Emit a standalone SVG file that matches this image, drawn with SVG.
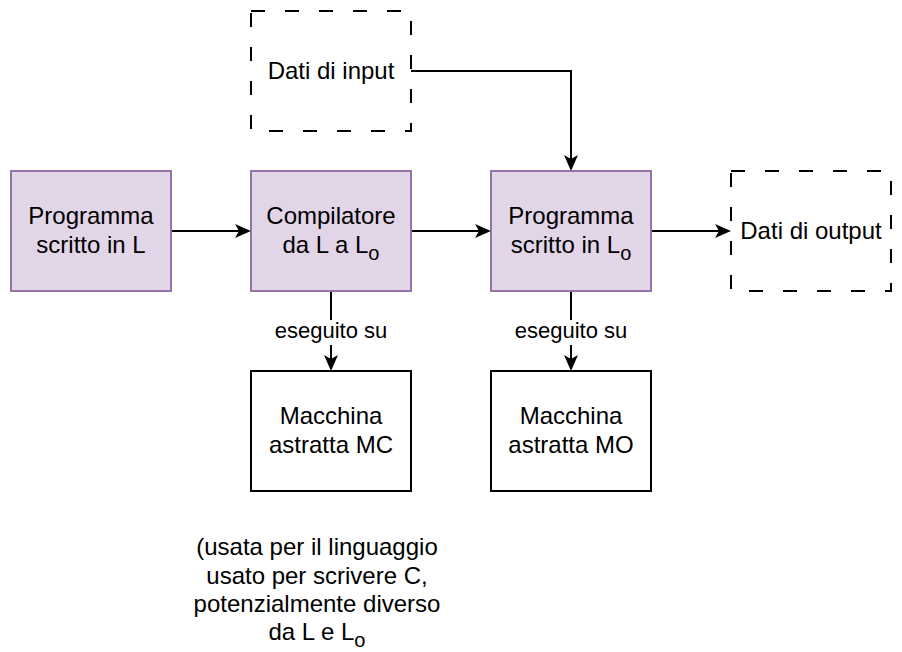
<svg xmlns="http://www.w3.org/2000/svg" width="902" height="652" viewBox="0 0 902 652">
<style>
  text { font-family: "Liberation Sans", Arial, Helvetica, sans-serif; fill: #000; }
  .t { font-size: 24px; text-anchor: middle; }
  .lbl { font-size: 22px; text-anchor: middle; }
  .sub { font-size: 20px; }
  .purple { fill: #e1d5e7; stroke: #9673a6; stroke-width: 2; }
  .plain { fill: #ffffff; stroke: #000; stroke-width: 2; }
  .dash { fill: #ffffff; stroke: #000; stroke-width: 2; stroke-dasharray: 14 20; }
  .edge { fill: none; stroke: #000; stroke-width: 2; marker-end: url(#arrow); }
</style>
<defs>
  <marker id="arrow" markerUnits="userSpaceOnUse" markerWidth="16" markerHeight="16" viewBox="0 0 16 14" refX="11" refY="7" orient="auto">
    <path d="M0,0 L16,7 L0,14 L4,7 Z" fill="#000"/>
  </marker>
</defs>
<rect width="902" height="652" fill="#ffffff"/>

<g id="connectors">
  <path class="edge" d="M171,231 H246"/>
  <path class="edge" d="M411,231 H486"/>
  <path class="edge" d="M651,231 H726"/>
  <path class="edge" d="M411,71 H571 V166"/>
  <path class="edge" d="M331,291 V366"/>
  <path class="edge" d="M571,291 V366"/>
  <g id="label-mc">
    <rect x="274" y="320" width="114" height="25" fill="#ffffff"/>
    <text class="lbl" x="331" y="338">eseguito su</text>
  </g>
  <g id="label-mo">
    <rect x="514" y="320" width="114" height="25" fill="#ffffff"/>
    <text class="lbl" x="571" y="338">eseguito su</text>
  </g>
</g>

<g id="input">
  <rect class="dash" x="251" y="11" width="160" height="120"/>
  <text class="t" x="331" y="78.5">Dati di input</text>
</g>

<g id="prog-l">
  <rect class="purple" x="11" y="171" width="160" height="120"/>
  <text class="t" x="91" y="224">Programma</text>
  <text class="t" x="91" y="253">scritto in L</text>
</g>

<g id="compiler">
  <rect class="purple" x="251" y="171" width="160" height="120"/>
  <text class="t" x="331" y="224">Compilatore</text>
  <text class="t" x="331" y="253">da L a L<tspan class="sub" dy="7">o</tspan></text>
</g>

<g id="prog-lo">
  <rect class="purple" x="491" y="171" width="160" height="120"/>
  <text class="t" x="571" y="224">Programma</text>
  <text class="t" x="571" y="253">scritto in L<tspan class="sub" dy="7">o</tspan></text>
</g>

<g id="output">
  <rect class="dash" x="731" y="171" width="160" height="120"/>
  <text class="t" x="811" y="238.5">Dati di output</text>
</g>

<g id="machine-mc">
  <rect class="plain" x="251" y="371" width="160" height="120"/>
  <text class="t" x="331" y="424">Macchina</text>
  <text class="t" x="331" y="453">astratta MC</text>
</g>

<g id="machine-mo">
  <rect class="plain" x="491" y="371" width="160" height="120"/>
  <text class="t" x="571" y="424">Macchina</text>
  <text class="t" x="571" y="453">astratta MO</text>
</g>

<g id="note">
  <text class="t" x="317" y="555">(usata per il linguaggio</text>
  <text class="t" x="317" y="583.5">usato per scrivere C,</text>
  <text class="t" x="317" y="612">potenzialmente diverso</text>
  <text class="t" x="317" y="640">da L e L<tspan class="sub" dy="7">o</tspan></text>
</g>
</svg>
